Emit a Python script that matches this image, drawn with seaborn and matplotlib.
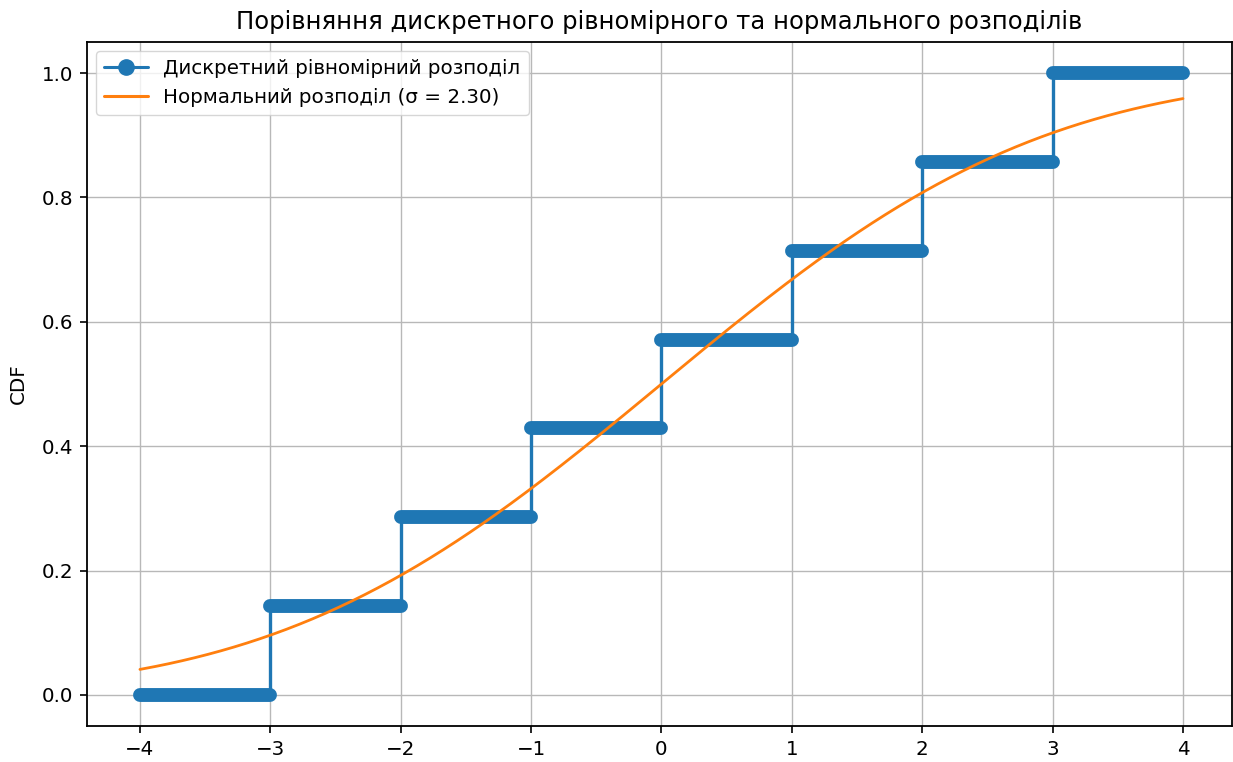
import numpy as np
import pandas as pd
import seaborn as sns
import matplotlib
matplotlib.use("Agg")
import matplotlib.pyplot as plt
from matplotlib.lines import Line2D
from math import erf, sqrt

# Discrete uniform distribution on {-3, ..., 3}: CDF levels between the edges
step_edges = [-4, -3, -2, -1, 0, 1, 2, 3, 4]
step_levels = [0.0, 0.143, 0.286, 0.429, 0.571, 0.714, 0.857, 1.0]

# Normal distribution used for comparison
mu = 0.0
sigma = 2.30

title = "Порівняння дискретного рівномірного та нормального розподілів"
label_discrete = "Дискретний рівномірний розподіл"
label_normal = f"Нормальний розподіл (σ = {sigma:.2f})"
y_label = "CDF"

blue = "#1f77b4"
orange = "#ff7f0e"

sns.set_style("ticks")
plt.rcParams["font.family"] = ["DejaVu Sans"]
plt.rcParams["text.color"] = "black"
plt.rcParams["axes.labelcolor"] = "black"

fig = plt.figure(figsize=(12.33, 7.62), dpi=100)
ax = fig.add_axes([87 / 1233, 1 - 726 / 762, (1232 - 87) / 1233, (726 - 42) / 762])

# Step path of the discrete CDF
step_df = pd.DataFrame({"x": step_edges, "y": step_levels + [step_levels[-1]]})
sns.lineplot(data=step_df, x="x", y="y", ax=ax, color=blue, lw=2.4,
             drawstyle="steps-post", sort=False, estimator=None, zorder=2)
# Thick horizontal plateaus
ax.hlines(step_levels, step_edges[:-1], step_edges[1:], colors=blue,
          linewidth=10, capstyle="round", zorder=2)

# Normal CDF
xs = np.linspace(step_edges[0], step_edges[-1], 400)
cdf = [0.5 * (1 + erf((v - mu) / (sigma * sqrt(2)))) for v in xs]
norm_df = pd.DataFrame({"x": xs, "y": cdf})
sns.lineplot(data=norm_df, x="x", y="y", ax=ax, color=orange, lw=2.0,
             estimator=None, zorder=3)

ax.set_xlim(-4.406, 4.376)
ax.set_ylim(-0.05, 1.05)
ax.set_xticks(step_edges)
ax.set_yticks([0.0, 0.2, 0.4, 0.6, 0.8, 1.0])
ax.grid(True, color="#b8b8b8", linewidth=1.0)
ax.set_axisbelow(True)
for s in ax.spines.values():
    s.set_visible(True)
    s.set_linewidth(1.3)
    s.set_color("black")
ax.tick_params(labelsize=14.3, length=5, width=1.2, colors="black", pad=5)
ax.set_xlabel("")
ax.set_ylabel(y_label, fontsize=14.3, labelpad=10)
ax.set_title(title, fontsize=17.5, pad=9)

handles = [
    Line2D([], [], color=blue, lw=2.2, marker="o", markersize=11),
    Line2D([], [], color=orange, lw=2.2),
]
ax.legend(handles, [label_discrete, label_normal], loc="upper left",
          fontsize=14.3, frameon=True, framealpha=0.8, edgecolor="#cccccc",
          borderaxespad=0.45, handlelength=2.2)

fig.savefig("out.png", dpi=100)
